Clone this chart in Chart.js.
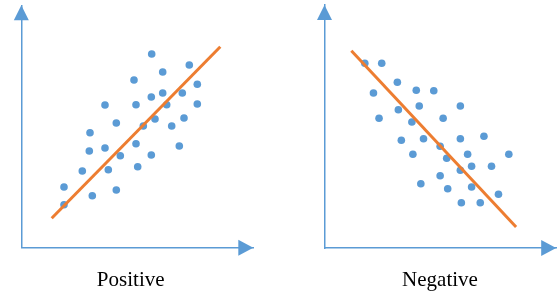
<!DOCTYPE html>
<html>
<head>
<meta charset="utf-8">
<script src="https://cdn.jsdelivr.net/npm/chart.js@4"></script>
<style>
  html, body { margin: 0; padding: 0; background: #ffffff; }
  #wrap { position: relative; width: 560px; height: 294px; overflow: hidden; }
  canvas { position: absolute; top: 0; }
  #c1 { left: 0; }
  #c2 { left: 280px; }
</style>
</head>
<body>
<div id="wrap">
  <canvas id="c1" width="280" height="294"></canvas>
  <canvas id="c2" width="280" height="294"></canvas>
</div>
<script>
const panelLabels = ["Positive", "Negative"];

const positiveX = [130.4,168.0,141.4,112.7,176.0,141.4,161.0,130.0,83.7,114.7,145.4,176.0,95.0,133.7,122.0,150.4,162.7,68.7,68.0,83.7,114.7,99.0,158.0,130.0,61.0,87.0,116.4,42.7,71.0,95.0,42.7];
const positiveY = [193.8,182.8,175.8,167.8,163.5,154.8,154.8,150.8,142.8,143.1,143.1,143.8,124.8,128.8,121.8,121.8,129.8,115.1,96.8,99.8,104.1,92.1,101.8,92.8,76.8,78.1,81.1,60.8,52.1,57.8,43.1];
const positiveTrendX = [30.4, 199.0];
const positiveTrendY = [29.5, 201.1];

const negativeX = [40.5,57.5,73.2,49.2,92.2,109.8,74.2,95.2,136.5,54.8,87.8,119.2,77.2,99.5,136.5,160.2,116.2,88.8,122.8,143.8,185.2,136.5,147.8,167.8,116.2,96.8,123.8,147.8,174.8,137.5,156.5];
const negativeY = [184.7,184.7,165.7,155.0,157.7,157.3,138.3,142.0,142.0,129.7,126.0,129.7,107.7,109.3,109.3,111.7,101.7,93.7,89.7,93.7,93.7,77.7,81.7,81.7,72.3,64.3,59.3,61.0,53.7,45.3,45.3];
const negativeTrendX = [27.0, 192.5];
const negativeTrendY = [197.2, 21.0];

// ---- Styles ----
const BLUE = "#5B9BD5";
const ORANGE = "#ED7D31";

function pts(xs, ys) { return xs.map((x, i) => ({ x: x, y: ys[i] })); }

const arrowPlugin = {
  id: "arrows",
  afterDraw(chart, args, opts) {
    const ctx = chart.ctx;
    const a = chart.chartArea;
    const L = 15, H = 7.5;
    ctx.save();
    ctx.fillStyle = BLUE;
    // y axis arrow
    ctx.beginPath();
    ctx.moveTo(a.left, a.top);
    ctx.lineTo(a.left - H, a.top + L);
    ctx.lineTo(a.left + H, a.top + L);
    ctx.closePath();
    ctx.fill();
    // x axis arrow
    ctx.beginPath();
    ctx.moveTo(a.right, a.bottom);
    ctx.lineTo(a.right - L, a.bottom - 8);
    ctx.lineTo(a.right - L, a.bottom + 8);
    ctx.closePath();
    ctx.fill();
    // label
    ctx.fillStyle = "#000000";
    ctx.font = "21px 'Liberation Serif', 'Times New Roman', serif";
    ctx.textAlign = "center";
    ctx.textBaseline = "alphabetic";
    ctx.fillText(opts.text, opts.x, 286);
    ctx.restore();
  }
};

function makeChart(id, xs, ys, tx, ty, cfg) {
  new Chart(document.getElementById(id), {
    type: "scatter",
    data: {
      datasets: [
        {
          type: "line",
          data: pts(tx, ty),
          borderColor: ORANGE,
          borderWidth: 3,
          pointRadius: 0,
          fill: false,
          tension: 0
        },
        {
          data: pts(xs, ys),
          backgroundColor: BLUE,
          borderColor: BLUE,
          borderWidth: 0,
          pointRadius: 3.8,
          pointHoverRadius: 3.8
        }
      ]
    },
    options: {
      responsive: false,
      animation: false,
      devicePixelRatio: 1,
      layout: { padding: { top: cfg.top, right: cfg.right, left: 0, bottom: 0 } },
      plugins: {
        legend: { display: false },
        tooltip: { enabled: false },
        arrows: { text: cfg.label, x: cfg.labelX }
      },
      scales: {
        x: {
          type: "linear",
          min: 0, max: cfg.xMax,
          grid: { display: false, drawTicks: false },
          ticks: { display: false },
          border: { display: true, color: BLUE, width: 1.5 },
          afterFit(s) { s.height = cfg.bottomH; }
        },
        y: {
          type: "linear",
          min: 0, max: cfg.yMax,
          grid: { display: false, drawTicks: false },
          ticks: { display: false },
          border: { display: true, color: BLUE, width: 1.5 },
          afterFit(s) { s.width = cfg.leftW; }
        }
      }
    },
    plugins: [arrowPlugin]
  });
}

makeChart("c1", positiveX, positiveY, positiveTrendX, positiveTrendY, {
  top: 5.3, right: 26.7, leftW: 21.3, bottomH: 46.2,
  xMax: 232, yMax: 242.5, label: panelLabels[0], labelX: 130.7
});
makeChart("c2", negativeX, negativeY, negativeTrendX, negativeTrendY, {
  top: 5, right: 2.7, leftW: 44.5, bottomH: 46,
  xMax: 232.8, yMax: 243, label: panelLabels[1], labelX: 160
});
</script>
</body>
</html>
